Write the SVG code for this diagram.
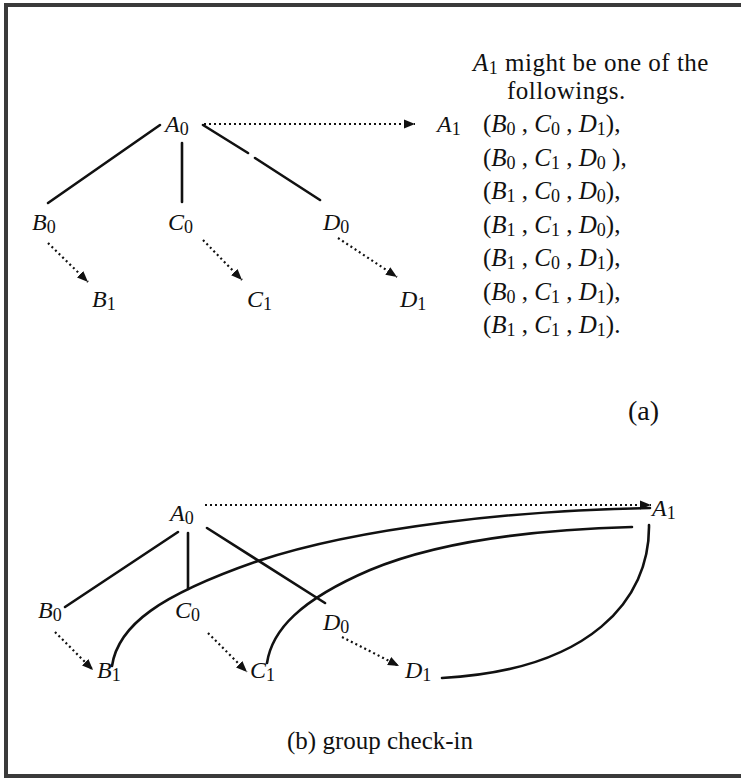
<svg xmlns="http://www.w3.org/2000/svg" width="741" height="780" viewBox="0 0 741 780">
<defs>
<style>
text{font-family:"Liberation Serif","Times New Roman",serif;fill:#111;font-size:24px}
.v{font-style:italic}
.s{font-style:normal;font-size:18px}
.i{font-style:italic}
.note{font-size:25px;letter-spacing:0.5px}
.note .s{font-size:18px}
.tup{font-size:25px}
.tup .s{font-size:18px}
.solid{fill:none;stroke:#111;stroke-width:2.6;stroke-linecap:round}
.dot{fill:none;stroke:#111;stroke-width:2.2;stroke-dasharray:2 3}
.frame{fill:none;stroke:#3a3a3a;stroke-width:4}
</style>
<marker id="ah" markerUnits="userSpaceOnUse" markerWidth="12" markerHeight="10" refX="11" refY="5" orient="auto">
<path d="M0,0.5 L11,5 L0,9.5 z" fill="#111"/>
</marker>
</defs>
<rect width="741" height="780" fill="#fff"/>
<path class="frame" d="M741,5 H6 V776 H741"/>

<g id="connectors-a">
<path class="dot" d="M204,124 H415" marker-end="url(#ah)"/>
<path class="solid" d="M160,125 L48,203"/>
<path class="solid" d="M182,143 V202"/>
<path class="solid" d="M203,125 L248,153 M255,158 L320,200"/>
<path class="dot" d="M48,243 L88,282" marker-end="url(#ah)"/>
<path class="dot" d="M203,240 L242,280" marker-end="url(#ah)"/>
<path class="dot" d="M338,238 L397,277" marker-end="url(#ah)"/>
</g>

<g id="a-A0"><text class="v" x="165" y="132">A<tspan class="s" dy="3">0</tspan></text></g>
<g id="a-A1"><text class="v" x="437" y="132">A<tspan class="s" dy="3">1</tspan></text></g>
<g id="a-B0"><text class="v" x="32" y="230">B<tspan class="s" dy="3">0</tspan></text></g>
<g id="a-C0"><text class="v" x="168" y="230">C<tspan class="s" dy="3">0</tspan></text></g>
<g id="a-D0"><text class="v" x="323" y="230">D<tspan class="s" dy="3">0</tspan></text></g>
<g id="a-B1"><text class="v" x="92" y="307">B<tspan class="s" dy="3">1</tspan></text></g>
<g id="a-C1"><text class="v" x="247" y="307">C<tspan class="s" dy="3">1</tspan></text></g>
<g id="a-D1"><text class="v" x="400" y="307">D<tspan class="s" dy="3">1</tspan></text></g>

<g id="a-note">
<text class="note" x="473" y="71"><tspan class="i">A</tspan><tspan class="s" dy="3">1</tspan><tspan dy="-3"> might be one of the</tspan></text>
<text class="note" x="507" y="99">followings.</text>
<text class="tup" x="483" y="132">(<tspan class="i">B</tspan><tspan class="s" dy="3">0</tspan><tspan dy="-3"> , </tspan><tspan class="i">C</tspan><tspan class="s" dy="3">0</tspan><tspan dy="-3"> , </tspan><tspan class="i">D</tspan><tspan class="s" dy="3">1</tspan><tspan dy="-3">),</tspan></text>
<text class="tup" x="483" y="165.5">(<tspan class="i">B</tspan><tspan class="s" dy="3">0</tspan><tspan dy="-3"> , </tspan><tspan class="i">C</tspan><tspan class="s" dy="3">1</tspan><tspan dy="-3"> , </tspan><tspan class="i">D</tspan><tspan class="s" dy="3">0</tspan><tspan dy="-3"> ),</tspan></text>
<text class="tup" x="483" y="199">(<tspan class="i">B</tspan><tspan class="s" dy="3">1</tspan><tspan dy="-3"> , </tspan><tspan class="i">C</tspan><tspan class="s" dy="3">0</tspan><tspan dy="-3"> , </tspan><tspan class="i">D</tspan><tspan class="s" dy="3">0</tspan><tspan dy="-3">),</tspan></text>
<text class="tup" x="483" y="232.5">(<tspan class="i">B</tspan><tspan class="s" dy="3">1</tspan><tspan dy="-3"> , </tspan><tspan class="i">C</tspan><tspan class="s" dy="3">1</tspan><tspan dy="-3"> , </tspan><tspan class="i">D</tspan><tspan class="s" dy="3">0</tspan><tspan dy="-3">),</tspan></text>
<text class="tup" x="483" y="266">(<tspan class="i">B</tspan><tspan class="s" dy="3">1</tspan><tspan dy="-3"> , </tspan><tspan class="i">C</tspan><tspan class="s" dy="3">0</tspan><tspan dy="-3"> , </tspan><tspan class="i">D</tspan><tspan class="s" dy="3">1</tspan><tspan dy="-3">),</tspan></text>
<text class="tup" x="483" y="299.5">(<tspan class="i">B</tspan><tspan class="s" dy="3">0</tspan><tspan dy="-3"> , </tspan><tspan class="i">C</tspan><tspan class="s" dy="3">1</tspan><tspan dy="-3"> , </tspan><tspan class="i">D</tspan><tspan class="s" dy="3">1</tspan><tspan dy="-3">),</tspan></text>
<text class="tup" x="483" y="333">(<tspan class="i">B</tspan><tspan class="s" dy="3">1</tspan><tspan dy="-3"> , </tspan><tspan class="i">C</tspan><tspan class="s" dy="3">1</tspan><tspan dy="-3"> , </tspan><tspan class="i">D</tspan><tspan class="s" dy="3">1</tspan><tspan dy="-3">).</tspan></text>
</g>
<g id="label-a"><text x="628" y="420" style="font-size:28px">(a)</text></g>

<g id="connectors-b">
<path class="dot" d="M205,505 H651" marker-end="url(#ah)"/>
<path class="solid" d="M178,532 L65,607"/>
<path class="solid" d="M188,533 V589"/>
<path class="solid" d="M207,528 L325,603"/>
<path class="dot" d="M55,632 L93,670" marker-end="url(#ah)"/>
<path class="dot" d="M208,633 L247,672" marker-end="url(#ah)"/>
<path class="dot" d="M342,637 L399,666" marker-end="url(#ah)"/>
<path class="solid" d="M112,666 C118,625 160,595 258,561 C360,527 520,510 650,508"/>
<path class="solid" d="M267,663 C272,630 300,600 370,570 C430,545 520,530 632,527"/>
<path class="solid" d="M649,525 C650,600 590,670 442,678"/>
</g>

<g id="b-A0"><text class="v" x="170" y="521">A<tspan class="s" dy="3">0</tspan></text></g>
<g id="b-A1"><text class="v" x="652" y="516">A<tspan class="s" dy="3">1</tspan></text></g>
<g id="b-B0"><text class="v" x="38" y="618">B<tspan class="s" dy="3">0</tspan></text></g>
<g id="b-C0"><text class="v" x="175" y="618">C<tspan class="s" dy="3">0</tspan></text></g>
<g id="b-D0"><text class="v" x="323" y="630">D<tspan class="s" dy="3">0</tspan></text></g>
<g id="b-B1"><text class="v" x="97" y="678">B<tspan class="s" dy="3">1</tspan></text></g>
<g id="b-C1"><text class="v" x="250" y="678">C<tspan class="s" dy="3">1</tspan></text></g>
<g id="b-D1"><text class="v" x="405" y="678">D<tspan class="s" dy="3">1</tspan></text></g>
<g id="label-b"><text x="287" y="749" style="font-size:25px">(b) group check-in</text></g>
</svg>
